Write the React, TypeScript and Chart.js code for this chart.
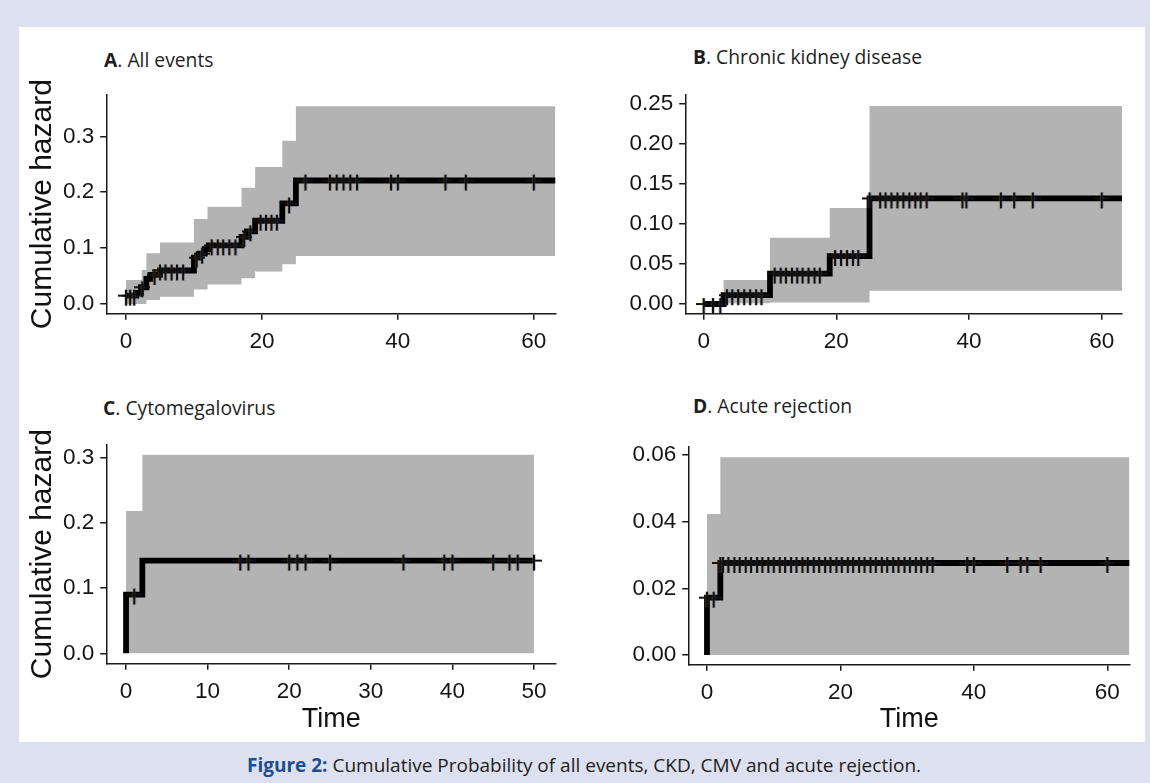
import React, { useEffect, useRef } from 'react';
import { Chart, registerables } from 'chart.js';

Chart.register(...registerables);
Chart.defaults.font.family = "'Liberation Sans', Arial, sans-serif";

// ---------------- Data ----------------
// A. All events
const timesA = [0, 1.5, 2.2, 3, 3.6, 5, 10, 10.8, 11.6, 12.2, 17, 17.8, 19, 23, 25, 63.2];
const hazardA = [0.015, 0.02, 0.03, 0.045, 0.052, 0.06, 0.083, 0.09, 0.098, 0.105, 0.12, 0.13, 0.149, 0.18, 0.221, 0.221];
const bandTimesA = [0, 2.3, 3, 5, 10, 12, 17, 19, 23, 25, 63.2];
const upperA = [0.043, 0.061, 0.091, 0.11, 0.152, 0.174, 0.208, 0.245, 0.292, 0.354, 0.354];
const lowerA = [0, 0, 0.007, 0.013, 0.026, 0.035, 0.046, 0.058, 0.071, 0.086, 0.086];
const censorA = [0, 0.6, 1.2, 2.4, 4.2, 5, 5.8, 6.7, 7.5, 8.4, 10.4, 11.2, 12.6, 13.5, 14.3, 15.2, 16.1, 17.4, 18.3, 19.8, 20.6, 21.4, 22.2, 24, 26.4, 30, 31, 32, 33, 34, 39, 40, 47, 50, 60];

// B. Chronic kidney disease
const timesB = [0, 3, 10, 19, 25, 63.1];
const hazardB = [0, 0.011, 0.038, 0.06, 0.132, 0.132];
const bandTimesB = [0, 3, 10, 19, 25, 63.1];
const upperB = [0, 0.03, 0.083, 0.12, 0.2475, 0.2475];
const lowerB = [0, 0.001, 0.002, 0.002, 0.0166, 0.0166];
const censorB = [0, 1.4, 2.5, 3.5, 4.3, 5.2, 6.1, 7, 7.9, 8.7, 10.7, 11.6, 12.4, 13.3, 14.1, 14.9, 15.8, 16.7, 17.5, 19.8, 20.7, 21.6, 22.5, 23.3, 25, 26.6, 27.4, 28.3, 29.2, 30.1, 31, 31.9, 32.7, 33.6, 39, 39.6, 44.8, 46.8, 49.6, 60];

// C. Cytomegalovirus
const timesC = [0, 0, 2, 50];
const hazardC = [0, 0.09, 0.142, 0.142];
const bandTimesC = [0, 2, 50];
const upperC = [0.218, 0.304, 0.304];
const lowerC = [0, 0, 0];
const censorC = [1, 14, 15, 20, 21, 22, 25, 34, 39, 40, 45, 47, 48, 50];

// D. Acute rejection
const timesD = [0, 0, 2, 63.3];
const hazardD = [0, 0.0172, 0.0276, 0.0276];
const bandTimesD = [0, 2, 63.3];
const upperD = [0.0423, 0.0593, 0.0593];
const lowerD = [0, 0, 0];
const censorD = [0, 1, 2, 2.4, 3.2, 4.1, 4.9, 5.8, 6.6, 7.5, 8.3, 9.2, 10, 10.9, 11.7, 12.6, 13.4, 14.3, 15.1, 16, 16.8, 17.7, 18.5, 19.4, 20.2, 21.1, 21.9, 22.8, 23.6, 24.5, 25.3, 26.2, 27, 27.9, 28.7, 29.6, 30.4, 31.3, 32.1, 33, 33.8, 39, 40, 45, 47, 48, 50, 60];

// Ticks
const xTicksA = [0, 20, 40, 60];
const yTicksA = [0, 0.1, 0.2, 0.3];
const xTicksB = [0, 20, 40, 60];
const yTicksB = [0, 0.05, 0.1, 0.15, 0.2, 0.25];
const xTicksC = [0, 10, 20, 30, 40, 50];
const yTicksC = [0, 0.1, 0.2, 0.3];
const xTicksD = [0, 20, 40, 60];
const yTicksD = [0, 0.02, 0.04, 0.06];

// Text
const titleLetters = ['A', 'B', 'C', 'D'];
const titleTexts = ['All events', 'Chronic kidney disease', 'Cytomegalovirus', 'Acute rejection'];
const yAxisTitle = 'Cumulative hazard';
const xAxisTitle = 'Time';
const captionLead = 'Figure 2:';
const captionText = ' Cumulative Probability of all events, CKD, CMV and acute rejection.';

// ---------------- Layout ----------------
type Panel = {
  times: number[]; hazard: number[]; bandTimes: number[]; upper: number[]; lower: number[]; censor: number[];
  xTicks: number[]; yTicks: number[]; xRange: [number, number]; yRange: [number, number]; decimals: number;
  showYTitle: boolean; showXTitle: boolean;
  canvas: [number, number, number, number];
  area: [number, number, number, number];
  title: [number, number];
};

const panels: Panel[] = [
  {
    times: timesA, hazard: hazardA, bandTimes: bandTimesA, upper: upperA, lower: lowerA, censor: censorA,
    xTicks: xTicksA, yTicks: yTicksA, xRange: [-2.84, 63.2], yRange: [-0.0166, 0.374], decimals: 1,
    showYTitle: true, showXTitle: false,
    canvas: [19, 73, 551, 283], area: [106.7, 95, 555.5, 313.3], title: [104, 60],
  },
  {
    times: timesB, hazard: hazardB, bandTimes: bandTimesB, upper: upperB, lower: lowerB, censor: censorB,
    xTicks: xTicksB, yTicks: yTicksB, xRange: [-2.71, 63.06], yRange: [-0.0116, 0.2613], decimals: 2,
    showYTitle: false, showXTitle: false,
    canvas: [595, 73, 545, 283], area: [685.7, 95, 1122, 313.3], title: [693, 57],
  },
  {
    times: timesC, hazard: hazardC, bandTimes: bandTimesC, upper: upperC, lower: lowerC, censor: censorC,
    xTicks: xTicksC, yTicks: yTicksC, xRange: [-2.37, 52.7], yRange: [-0.0153, 0.319], decimals: 1,
    showYTitle: true, showXTitle: true,
    canvas: [19, 423, 551, 318], area: [106.7, 445, 556, 663.3], title: [103, 408],
  },
  {
    times: timesD, hazard: hazardD, bandTimes: bandTimesD, upper: upperD, lower: lowerD, censor: censorD,
    xTicks: xTicksD, yTicks: yTicksD, xRange: [-2.74, 63.4], yRange: [-0.0028, 0.0625], decimals: 2,
    showYTitle: false, showXTitle: true,
    canvas: [595, 425, 545, 316], area: [688.7, 446.7, 1130, 664.3], title: [693, 406],
  },
];

function makeMark(): HTMLCanvasElement {
  const c = document.createElement('canvas');
  c.width = 16;
  c.height = 22;
  const g = c.getContext('2d')!;
  g.fillStyle = '#111';
  g.fillRect(0, 10, 16, 2);
  g.fillStyle = 'rgba(170,110,40,0.3)';
  g.fillRect(6, 5, 1, 16);
  g.fillStyle = 'rgba(40,90,170,0.3)';
  g.fillRect(9, 5, 1, 16);
  g.fillStyle = '#111';
  g.fillRect(7, 5, 2, 16);
  return c;
}

function SurvPanel({ p }: { p: Panel }) {
  const ref = useRef<HTMLCanvasElement>(null);
  const [cx, cy, cw, ch] = p.canvas;
  useEffect(() => {
    const [al, at, ar, ab] = p.area;
    const yAxisWidth = al - cx;
    const padTop = at - cy;
    const padRight = cx + cw - ar;
    const xAxisHeight = cy + ch - ab;
    const line = p.times.map((t, i) => ({ x: t, y: p.hazard[i] }));
    const up = p.bandTimes.map((t, i) => ({ x: t, y: p.upper[i] }));
    const lo = p.bandTimes.map((t, i) => ({ x: t, y: p.lower[i] }));
    const hazAt = (t: number) => {
      let v = p.hazard[0];
      for (let i = 0; i < p.times.length; i++) if (p.times[i] <= t) v = p.hazard[i];
      return v;
    };
    const marks = p.censor.map((t) => ({ x: t, y: hazAt(t) }));
    const mark = makeMark();
    const axisColor = '#1a1a1a';
    const chart = new Chart(ref.current!, {
      type: 'line',
      data: {
        datasets: [
          { data: marks, showLine: false, pointStyle: mark as any, pointRadius: 8, pointHoverRadius: 8, clip: false as any },
          { data: line, borderColor: '#000', borderWidth: 5.8, stepped: true, pointRadius: 0, fill: false, borderCapStyle: 'butt', borderJoinStyle: 'miter' },
          { data: up, borderColor: 'rgba(0,0,0,0)', borderWidth: 0, backgroundColor: '#b3b3b3', fill: '+1', stepped: true, pointRadius: 0 },
          { data: lo, borderColor: 'rgba(0,0,0,0)', borderWidth: 0, fill: false, stepped: true, pointRadius: 0 },
        ],
      },
      options: {
        responsive: false,
        animation: false,
        devicePixelRatio: 1,
        layout: { padding: { left: 0, top: padTop, right: padRight, bottom: 0 } },
        plugins: { legend: { display: false }, tooltip: { enabled: false } },
        scales: {
          x: {
            type: 'linear',
            min: p.xRange[0],
            max: p.xRange[1],
            afterBuildTicks: (s: any) => { s.ticks = p.xTicks.map((v) => ({ value: v })); },
            afterFit: (s: any) => { s.height = xAxisHeight; },
            grid: { drawOnChartArea: false, drawTicks: true, tickLength: 6.5, color: axisColor, lineWidth: 1.5 },
            border: { display: true, color: axisColor, width: 1.5 },
            ticks: { autoSkip: false, maxRotation: 0, padding: 8, color: '#151515', font: { size: 22.5 }, callback: (v: any) => String(v) },
            title: { display: p.showXTitle, text: xAxisTitle, color: '#111', font: { size: 27, lineHeight: 1 }, padding: { top: 0, bottom: 8 } },
          },
          y: {
            type: 'linear',
            min: p.yRange[0],
            max: p.yRange[1],
            afterBuildTicks: (s: any) => { s.ticks = p.yTicks.map((v) => ({ value: v })); },
            afterFit: (s: any) => { s.width = yAxisWidth; },
            grid: { drawOnChartArea: false, drawTicks: true, tickLength: 6.5, color: axisColor, lineWidth: 1.5 },
            border: { display: true, color: axisColor, width: 1.5 },
            ticks: { autoSkip: false, padding: 6, color: '#151515', font: { size: 22.5 }, callback: (v: any) => Number(v).toFixed(p.decimals) },
            title: { display: p.showYTitle, text: yAxisTitle, color: '#111', font: { size: 30, lineHeight: 1 }, padding: { top: 9, bottom: 0 } },
          },
        },
      },
    } as any);
    return () => chart.destroy();
  }, []);
  return (
    <canvas
      ref={ref}
      width={cw}
      height={ch}
      style={{ position: 'absolute', left: cx, top: cy, width: cw, height: ch }}
    />
  );
}

export default function App() {
  return (
    <div style={{ position: 'absolute', left: 0, top: 0, width: 1150, height: 783, background: '#dde0ee', overflow: 'hidden' }}>
      <div style={{ position: 'absolute', left: 19, top: 27, width: 1126, height: 715, background: '#ffffff' }} />
      {panels.map((p, i) => (
        <SurvPanel key={i} p={p} />
      ))}
      {panels.map((p, i) => (
        <div
          key={'t' + i}
          style={{
            position: 'absolute', left: p.title[0], top: p.title[1] - 12, height: 24, lineHeight: '24px',
            fontFamily: "'Open Sans', 'Noto Sans', sans-serif", fontSize: 19.3, color: '#1e1e1e', whiteSpace: 'nowrap',
          }}
        >
          <b>{titleLetters[i]}</b>. {titleTexts[i]}
        </div>
      ))}
      <div
        style={{
          position: 'absolute', left: 0, width: 1168, top: 752, height: 26, lineHeight: '26px', textAlign: 'center',
          fontFamily: "'Open Sans', 'Noto Sans', sans-serif", fontSize: 19, color: '#1e1e1e', whiteSpace: 'nowrap',
        }}
      >
        <span style={{ fontWeight: 700, color: '#1c4f91' }}>{captionLead}</span>
        {captionText}
      </div>
    </div>
  );
}
